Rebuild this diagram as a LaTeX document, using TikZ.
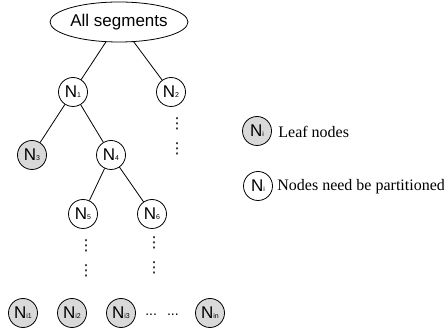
\documentclass[tikz,border=0pt]{standalone}
\usepackage{fontspec}
\setmainfont{Liberation Serif}
\newfontfamily\nodefont{Liberation Sans}
\newfontfamily\symfont{DejaVu Sans}
\usetikzlibrary{shapes.geometric}
\definecolor{leafgray}{RGB}{217,217,217}
\newcommand{\nsub}[1]{N{\fontsize{7}{7}\selectfont #1}}

\begin{document}
\begin{tikzpicture}[x=1pt, y=-1pt, line width=0.8pt,
    tn/.style={draw, circle, minimum size=29pt, inner sep=0pt, font=\nodefont\fontsize{17}{17}\selectfont},
    leaf/.style={tn, fill=leafgray},
    vd/.style={inner sep=0pt, font=\symfont\fontsize{15}{15}\selectfont},
    lgtext/.style={anchor=west, inner sep=0pt, font=\fontsize{16}{16}\selectfont}]
  \useasboundingbox (0,0) rectangle (444,328);
  \node[draw, ellipse, minimum width=138pt, minimum height=40pt, inner sep=0pt, font=\nodefont\fontsize{17}{17}\selectfont] (all) at (119,22) {All segments};
  \node[tn] (n1) at (73,92) {\nsub{1}};
  \node[tn] (n2) at (171,92) {\nsub{2}};
  \node[leaf] (n3) at (32,155) {\nsub{3}};
  \node[tn] (n4) at (111,155) {\nsub{4}};
  \node[tn] (n5) at (83,214) {\nsub{5}};
  \node[tn] (n6) at (152,214) {\nsub{6}};
  \node[vd] (d2a) at (177,124) {⋮};
  \node[vd] (d2b) at (177,149) {⋮};
  \node[vd] (d5a) at (86,246) {⋮};
  \node[vd] (d5b) at (86,271) {⋮};
  \node[vd] (d6a) at (154,243) {⋮};
  \node[vd] (d6b) at (154,268) {⋮};
  \node[leaf] (ni1) at (23,313) {\nsub{i1}};
  \node[leaf] (ni2) at (72,313) {\nsub{i2}};
  \node[leaf] (ni3) at (121,313) {\nsub{i3}};
  \node[inner sep=0pt, font=\nodefont\fontsize{14}{14}\selectfont] (dd) at (162,315) {...\hspace{10pt}...};
  \node[leaf] (nin) at (210,313) {\nsub{in}};
  \draw (all) -- (n1);
  \draw (all) -- (n2);
  \draw (n1) -- (n3);
  \draw (n1) -- (n4);
  \draw (n4) -- (n5);
  \draw (n4) -- (n6);
  \node[leaf] (lg) at (257,131) {\nsub{i}};
  \node[lgtext] (lgl) at (278,132) {Leaf nodes};
  \node[tn] (lw) at (258,186) {\nsub{i}};
  \node[lgtext] (lwl) at (277,187) {Nodes need be partitioned};
\end{tikzpicture}
\end{document}
